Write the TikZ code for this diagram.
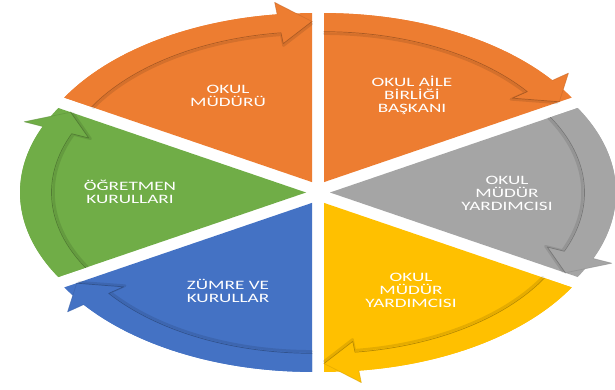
\documentclass[tikz,border=0pt]{standalone}
\usepackage{fontspec}
\newfontfamily\labfont[FakeStretch=1.5]{Carlito}
\definecolor{cOrange}{RGB}{237,125,49}
\definecolor{cGray}{RGB}{165,165,165}
\definecolor{cYellow}{RGB}{255,192,0}
\definecolor{cBlue}{RGB}{68,114,196}
\definecolor{cGreen}{RGB}{112,173,71}
\tikzset{
  lab/.style={text=white, align=center, font=\labfont\fontsize{12.8}{13}\selectfont, inner sep=0pt},
  rimline/.style={line width=0.7pt, line join=round, line cap=round},
  rimshadow/.style={line width=2.5pt, line join=round, line cap=round, black, opacity=0.1}
}
\begin{document}
\begin{tikzpicture}[x=1pt,y=1pt]
\useasboundingbox (0,0) rectangle (615,389);
\fill[white] (0,0) rectangle (615,389);
\coordinate (C) at (318,196.5);
\foreach \a/\col in {150/cOrange, 90/cOrange, 30/cGray, -30/cYellow, -90/cBlue, -150/cGreen}{
  \pgfmathsetmacro\b{\a-60}
  \pgfmathsetmacro\m{\a-30}
  \pgfmathsetmacro\h{\b+7}
  \begin{scope}[shift={(C)}, shift={(\m:12)}]
    \fill[\col] (0,0) -- (\a:286 and 169) arc[start angle=\a, end angle=\b, x radius=286, y radius=169] -- cycle;
    \draw[rimshadow] (\b:269 and 158.5) -- (\h:234 and 137.5) -- (\h:252.5 and 148.4)
      arc[start angle=\h, end angle=\a, x radius=252.5, y radius=148.4];
    \fill[\col] (\a:286 and 169) arc[start angle=\a, end angle=\h, x radius=286, y radius=169]
      -- (\h:306 and 181) -- (\b:271.7 and 160.6) -- (\h:236 and 139.5) -- (\h:254.5 and 150.4)
      arc[start angle=\h, end angle=\a, x radius=254.5, y radius=150.4] -- cycle;
    \draw[rimline, \col!72!black] (\b:271.7 and 160.6) -- (\h:236 and 139.5) -- (\h:254.5 and 150.4)
      arc[start angle=\h, end angle=\a, x radius=254.5, y radius=150.4];
    \draw[rimline, \col!85!black, opacity=0.6] (\h:286 and 169) -- (\h:306 and 181) -- (\b:271.7 and 160.6);
  \end{scope}
}
\node[lab] (n1) at (228,293) {OKUL\\MÜDÜRÜ};
\node[lab] (n2) at (412,294) {OKUL AİLE\\BİRLİĞİ\\BAŞKANI};
\node[lab] (n3) at (507,196) {OKUL\\MÜDÜR\\YARDIMCISI};
\node[lab] (n4) at (411,99) {OKUL\\MÜDÜR\\YARDIMCISI};
\node[lab] (n5) at (228,98) {ZÜMRE VE\\KURULLAR};
\node[lab] (n6) at (130,197) {ÖĞRETMEN\\KURULLARI};
\end{tikzpicture}
\end{document}
